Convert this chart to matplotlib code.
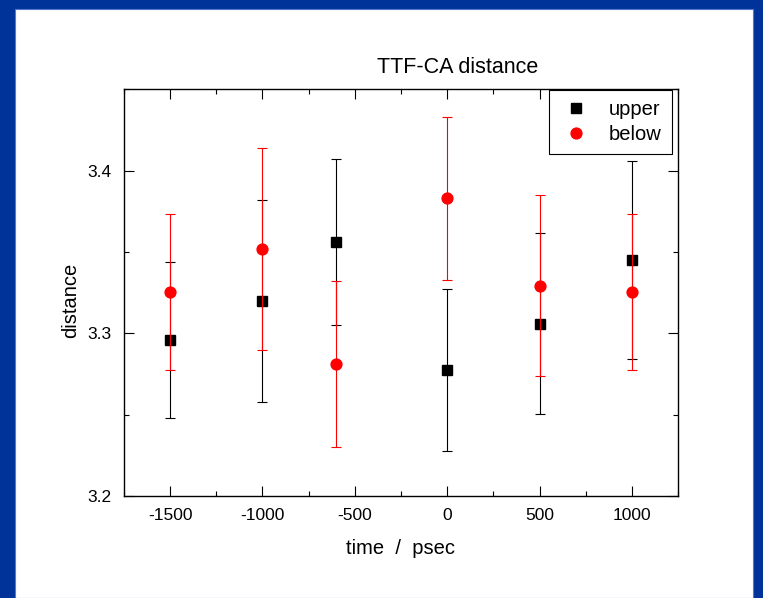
import matplotlib
matplotlib.use("Agg")
import matplotlib.pyplot as plt
from matplotlib.patches import Rectangle
from matplotlib.ticker import MultipleLocator

plt.rcParams['font.family'] = ['Liberation Sans', 'DejaVu Sans']
plt.rcParams['axes.unicode_minus'] = False

time = [-1500, -1000, -600, 0, 500, 1000]
upper = [3.296, 3.320, 3.356, 3.2775, 3.306, 3.345]
upper_err = [0.048, 0.062, 0.051, 0.050, 0.0556, 0.061]
below = [3.3254, 3.3518, 3.2814, 3.383, 3.3293, 3.3254]
below_err = [0.048, 0.062, 0.051, 0.050, 0.0555, 0.048]

W, H = 763, 598
fig = plt.figure(figsize=(W / 100, H / 100), dpi=100)
fig.patch.set_facecolor('#003399')
fig.patches.append(Rectangle((15 / W, 0), (753 - 15) / W, (H - 9) / H,
                             transform=fig.transFigure, facecolor='white',
                             edgecolor='#5577cc', linewidth=0.8, zorder=-5))

ax = fig.add_axes([124 / W, 1 - 496 / H, (678 - 124) / W, (496 - 89.3) / H])
ax.set_zorder(2)

eb1 = ax.errorbar(time, upper, yerr=upper_err, fmt='s', color='black', ecolor='black',
                  markersize=7.0, capsize=3.4, elinewidth=0.8, capthick=0.8,
                  label='upper', zorder=3)
eb2 = ax.errorbar(time, below, yerr=below_err, fmt='o', color='red', ecolor='red',
                  markersize=7.8, capsize=3.4, elinewidth=0.8, capthick=0.8,
                  label='below', zorder=4)

ax.set_xlim(-1750, 1250)
ax.set_ylim(3.2, 3.45)
ax.xaxis.set_major_locator(MultipleLocator(500))
ax.xaxis.set_minor_locator(MultipleLocator(250))
ax.yaxis.set_minor_locator(MultipleLocator(0.05))
ax.set_yticks([3.2, 3.3, 3.4])
ax.tick_params(which='both', direction='in', top=True, right=True, width=0.8)
ax.tick_params(which='major', length=7, labelsize=12.5)
ax.tick_params(which='minor', length=3.5)
ax.tick_params(axis='x', pad=9)
ax.tick_params(axis='y', pad=9)
for s in ax.spines.values():
    s.set_linewidth(1.0)

ax.set_xlabel('time  /  psec', fontsize=14.5, labelpad=11)
fig.text(71 / W, 1 - 300 / H, 'distance', rotation=90, fontsize=14.5,
         ha='center', va='center')
fig.text(458 / W, 1 - 73 / H, 'TTF-CA distance', fontsize=15.5,
         ha='center', va='baseline')

leg = ax.legend([eb1[0], eb2[0]], ['upper', 'below'],
                loc='upper right', bbox_to_anchor=(672 / W, 1 - 90 / H),
                bbox_transform=fig.transFigure, borderaxespad=0, fontsize=14.5,
                frameon=True, fancybox=False, edgecolor='black', framealpha=1,
                borderpad=0.5, handlelength=1.7, handletextpad=0.8,
                labelspacing=0.3, numpoints=1)
leg.get_frame().set_linewidth(0.8)

fig.savefig('out.png', dpi=100, facecolor=fig.get_facecolor())
